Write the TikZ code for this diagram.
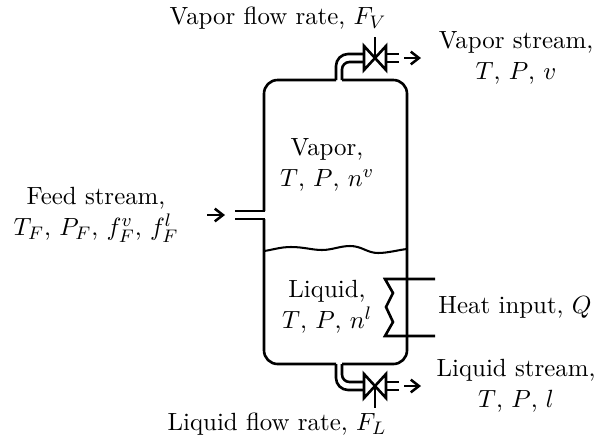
\documentclass[tikz,border=0pt]{standalone}
\usetikzlibrary{arrows.meta}
\tikzset{
  pipe/.style={line width=1.15pt},
  flowarrow/.style={line width=1.15pt,-{Straight Barb[length=3.6pt,width=5.6pt,line width=1.1pt]}},
  lbl/.style={align=center,inner sep=0pt,font=\fontsize{10.95}{13.6}\selectfont},
}
\begin{document}
\begin{tikzpicture}[x=0.44pt,y=-0.44pt]
\useasboundingbox (0,0) rectangle (598,439);
% named points
\coordinate (vt) at (375,58);
\coordinate (vb) at (375,386);
% vessel
\draw[pipe,rounded corners=6pt] (336,80) -- (264,80) -- (264,211);
\draw[pipe,rounded corners=6pt] (264,219) -- (264,364) -- (336,364);
\draw[pipe,rounded corners=6pt] (342,80) -- (407,80) -- (407,364) -- (342,364);
% top nozzle
\draw[pipe,rounded corners=5.3pt] (336,80) -- (336,54) -- (364,54);
\draw[pipe,rounded corners=3.3pt] (342,80) -- (342,62) -- (364,62);
\draw[pipe] (364,46) -- (386,70) -- (386,46) -- (364,70) -- cycle;
\draw[pipe] (vt) -- (375,37);
\draw[pipe] (386,54) -- (399,54) (386,62) -- (399,62);
\draw[flowarrow] (404,58) -- (421,58);
% bottom nozzle
\draw[pipe,rounded corners=5.3pt] (336,364) -- (336,390) -- (364,390);
\draw[pipe,rounded corners=3.3pt] (342,364) -- (342,382) -- (364,382);
\draw[pipe] (364,374) -- (386,398) -- (386,374) -- (364,398) -- cycle;
\draw[pipe] (vb) -- (375,408);
\draw[pipe] (386,382) -- (399,382) (386,390) -- (399,390);
\draw[flowarrow] (404,386) -- (421,386);
% feed
\draw[pipe] (235,211) -- (265,211) (235,219) -- (265,219);
\draw[flowarrow] (207,215) -- (225,215);
% level
\draw[line width=0.9pt] (264,251) .. controls (272,250) and (280,247) .. (291,247)
  .. controls (304,247) and (312,250) .. (322,250)
  .. controls (332,250) and (340,246) .. (350,246)
  .. controls (362,246) and (367,253) .. (378,253)
  .. controls (388,253) and (398,250) .. (407,249);
% heater
\draw[pipe,line join=miter] (435,279) -- (385,279) -- (393,293) -- (386,307) -- (393,322) -- (385,336) -- (435,336);
% labels
\node[lbl] (t1) at (278,18) {Vapor flow rate, $F_V$};
\node[lbl] (t2) at (516,58) {Vapor stream,\\$T$, $P$, $v$};
\node[lbl] (t3) at (327,165) {Vapor,\\$T$, $P$, $n^v$};
\node[lbl] (t4) at (96,215) {Feed stream,\\$T_F$, $P_F$, $f_F^v$, $f_F^l$};
\node[lbl] (t5) at (327,307) {Liquid,\\$T$, $P$, $n^l$};
\node[lbl,anchor=west] (t6) at (438,307) {Heat input, $Q$};
\node[lbl] (t7) at (516,386) {Liquid stream,\\$T$, $P$, $l$};
\node[lbl] (t8) at (277,424) {Liquid flow rate, $F_L$};
\end{tikzpicture}
\end{document}
